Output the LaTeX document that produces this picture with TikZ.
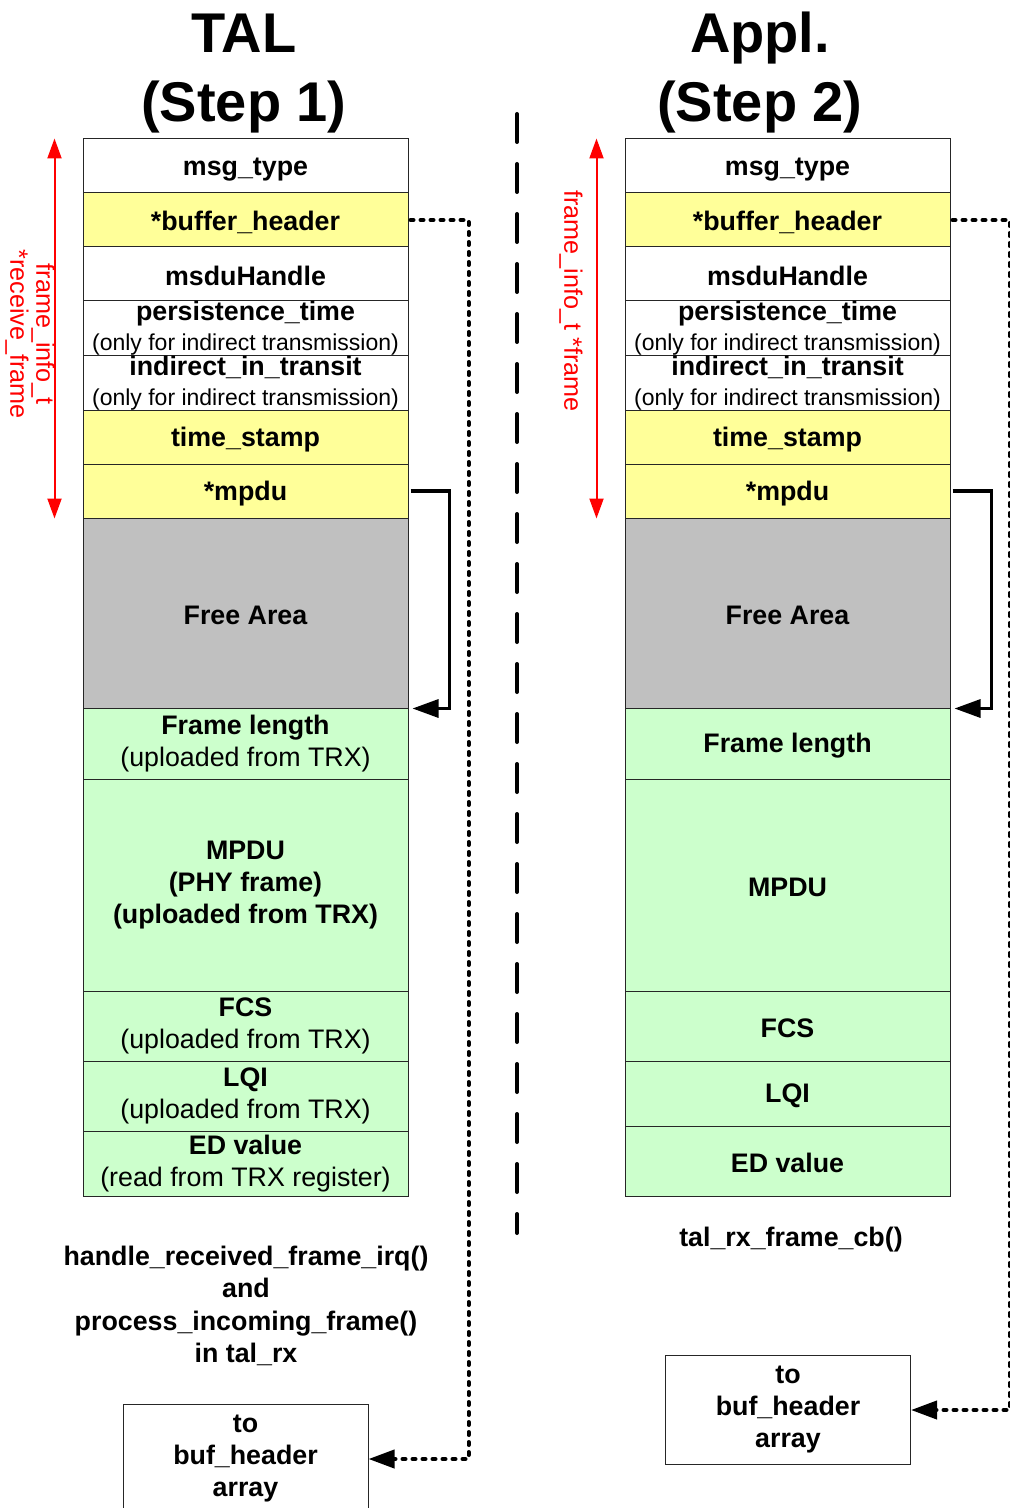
\documentclass[tikz,border=0pt]{standalone}
\usepackage{fontspec}
\setmainfont{Liberation Sans}
\usetikzlibrary{arrows.meta}
\definecolor{hdryellow}{HTML}{FFFF99}
\definecolor{rxgreen}{HTML}{CCFFCC}
\definecolor{freegray}{HTML}{C0C0C0}
\tikzset{
  cell/.style={draw=black!85, line width=0.5pt, inner sep=0pt, minimum width=162.5pt,
    align=center, font=\bfseries\fontsize{13.4}{16}\selectfont,
    execute at begin node={\rule{0pt}{12pt}}},
  title/.style={anchor=base, font=\bfseries\fontsize{28}{34}\selectfont},
  note/.style={align=center, font=\bfseries\fontsize{13.4}{16.2}\selectfont},
  redlabel/.style={red, rotate=-90, align=center, font=\fontsize{12.6}{13}\selectfont},
  bufbox/.style={draw=black!85, line width=0.5pt, minimum width=122.5pt, minimum height=54.5pt,
    align=center, font=\bfseries\fontsize{13.4}{16}\selectfont},
  sizearrow/.style={red, line width=1pt, {Triangle[length=10pt,width=7pt]}-{Triangle[length=10pt,width=7pt]}},
  ptrline/.style={line width=1.6pt, -{Triangle[length=13pt,width=9pt]}},
  bufline/.style={line width=2pt, line cap=round, dash pattern=on 1.5pt off 3.5pt,
    -{Triangle[length=13pt,width=9pt]}},
  divider/.style={line width=2pt, line cap=round, dash pattern=on 14pt off 11pt}
}
\newcommand{\onlyind}{\\[-1pt]\mdseries\fontsize{11.5}{14}\selectfont (only for indirect transmission)}
\begin{document}
\begin{tikzpicture}[x=0.5pt,y=-0.5pt]
  \useasboundingbox (0,0) rectangle (1010,1508);

  \node[title] (tal) at (244,53) {TAL};
  \node[title] (step1) at (244,122) {(Step 1)};
  \node[title] (appl) at (760,53) {Appl.};
  \node[title] (step2) at (760,122) {(Step 2)};

  \foreach \a/\b/\c/\t [count=\i] in {
    139/193/white/{msg\_type},
    193/247/hdryellow/{*buffer\_header},
    247/301/white/{msduHandle},
    301/356/white/{persistence\_time\onlyind},
    356/410/white/{indirect\_in\_transit\onlyind},
    410/464/hdryellow/{time\_stamp},
    464/518/hdryellow/{*mpdu},
    518/708/freegray/{Free Area},
    708/779/rxgreen/{Frame length\\\mdseries (uploaded from TRX)},
    779/991/rxgreen/{MPDU\\(PHY frame)\\(uploaded from TRX)},
    991/1061/rxgreen/{FCS\\\mdseries (uploaded from TRX)},
    1061/1131/rxgreen/{LQI\\\mdseries (uploaded from TRX)},
    1131/1196/rxgreen/{ED value\\\mdseries (read from TRX register)}}
    \node[cell, fill=\c, minimum height={(\b-\a)*0.5pt}] (L\i) at (245.5,{(\a+\b)/2}) {\t};

  \foreach \a/\b/\c/\t [count=\i] in {
    139/193/white/{msg\_type},
    193/247/hdryellow/{*buffer\_header},
    247/301/white/{msduHandle},
    301/356/white/{persistence\_time\onlyind},
    356/410/white/{indirect\_in\_transit\onlyind},
    410/464/hdryellow/{time\_stamp},
    464/518/hdryellow/{*mpdu},
    518/708/freegray/{Free Area},
    708/779/rxgreen/{Frame length},
    779/991/rxgreen/{MPDU},
    991/1061/rxgreen/{FCS},
    1061/1126/rxgreen/{LQI},
    1126/1196/rxgreen/{ED value}}
    \node[cell, fill=\c, minimum height={(\b-\a)*0.5pt}] (R\i) at (787.5,{(\a+\b)/2}) {\t};

  \node[redlabel] (infoL) at (30,334) {frame\_info\_t\\*receive\_frame};
  \node[redlabel] (infoR) at (571,301) {frame\_info\_t *frame};
  \draw[sizearrow] ([xshift=-14pt]L1.north west) -- ([xshift=-14pt]L7.south west);
  \draw[sizearrow] ([xshift=-14pt]R1.north west) -- ([xshift=-14pt]R7.south west);

  \draw[ptrline] ([xshift=1pt]L7.east) -| ([xshift=20.5pt]L8.south east) -- ([xshift=2pt]L8.south east);
  \draw[ptrline] ([xshift=1pt]R7.east) -| ([xshift=20.5pt]R8.south east) -- ([xshift=2pt]R8.south east);

  \node[note] (irqtxt) at (246,1306) {handle\_received\_frame\_irq()\\and\\process\_incoming\_frame()\\in tal\_rx};
  \node[note] (cbtxt) at (791,1240) {tal\_rx\_frame\_cb()};

  \node[bufbox] (bufL) at (245.5,1459) {to\\buf\_header\\array};
  \node[bufbox] (bufR) at (788,1410) {to\\buf\_header\\array};
  \draw[bufline] ([xshift=1pt]L2.east) -- ++(29pt,0) |- (bufL.east);
  \draw[bufline] ([xshift=1pt]R2.east) -- ++(28.5pt,0) |- (bufR.east);

  \coordinate (divtop) at (517,114);
  \coordinate (divbot) at (517,1233);
  \draw[divider] (divtop) -- (divbot);
\end{tikzpicture}
\end{document}
